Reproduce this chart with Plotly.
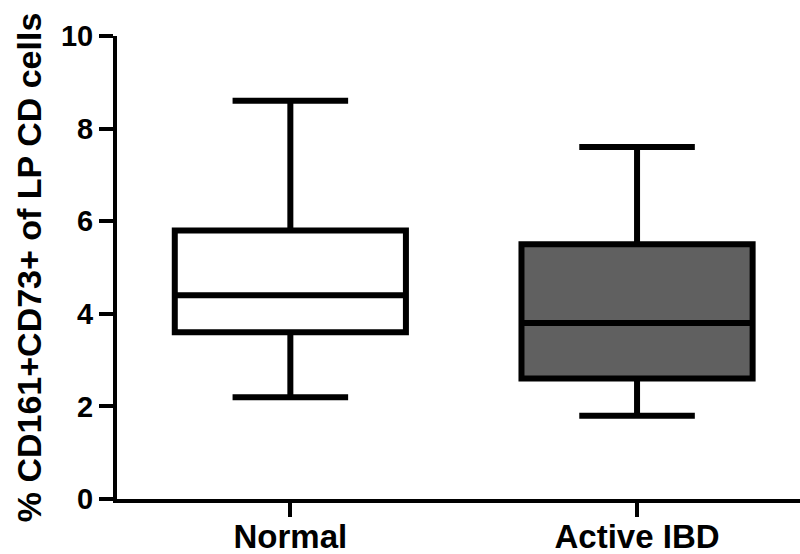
import plotly.graph_objects as go

# Summary statistics per group (whiskers = min/max)
groups = ["Normal", "Active IBD"]
lower = [2.2, 1.8]
q1 = [3.6, 2.6]
median = [4.4, 3.8]
q3 = [5.8, 5.5]
upper = [8.6, 7.6]
fills = ["#ffffff", "#606060"]

y_ticks = [0, 2, 4, 6, 8, 10]
y_title = "% CD161+CD73+ of LP CD cells"

FONT = "Liberation Sans, Arial, sans-serif"

fig = go.Figure()
for i, g in enumerate(groups):
    fig.add_trace(go.Box(
        x=[g],
        q1=[q1[i]],
        median=[median[i]],
        q3=[q3[i]],
        lowerfence=[lower[i]],
        upperfence=[upper[i]],
        boxpoints=False,
        width=2 / 3,
        whiskerwidth=0.5,
        fillcolor=fills[i],
        line=dict(color="black", width=6),
        hoverinfo="skip",
        showlegend=False,
    ))

fig.update_layout(
    width=800,
    height=554,
    margin=dict(l=117, r=0, t=36, b=55),
    paper_bgcolor="white",
    plot_bgcolor="white",
    font=dict(family=FONT, color="black"),
    xaxis=dict(
        type="category",
        categoryorder="array",
        categoryarray=groups,
        range=[-0.5, 1.47],
        automargin=False,
        showline=True,
        linecolor="black",
        linewidth=4,
        ticks="outside",
        ticklen=14,
        tickwidth=4,
        tickcolor="black",
        ticklabelstandoff=-9,
        showgrid=False,
        zeroline=False,
        tickfont=dict(family=FONT, size=33, color="black", weight="bold"),
    ),
    yaxis=dict(
        range=[0, 10],
        tickvals=y_ticks,
        automargin=False,
        showline=True,
        linecolor="black",
        linewidth=4,
        ticks="outside",
        ticklen=14,
        tickwidth=4,
        tickcolor="black",
        showgrid=False,
        zeroline=False,
        tickfont=dict(family=FONT, size=29, color="black", weight="bold"),
        title=dict(
            text=y_title,
            font=dict(family=FONT, size=34, color="black", weight="bold"),
            standoff=10,
        ),
    ),
)

fig.write_html("out.html")
